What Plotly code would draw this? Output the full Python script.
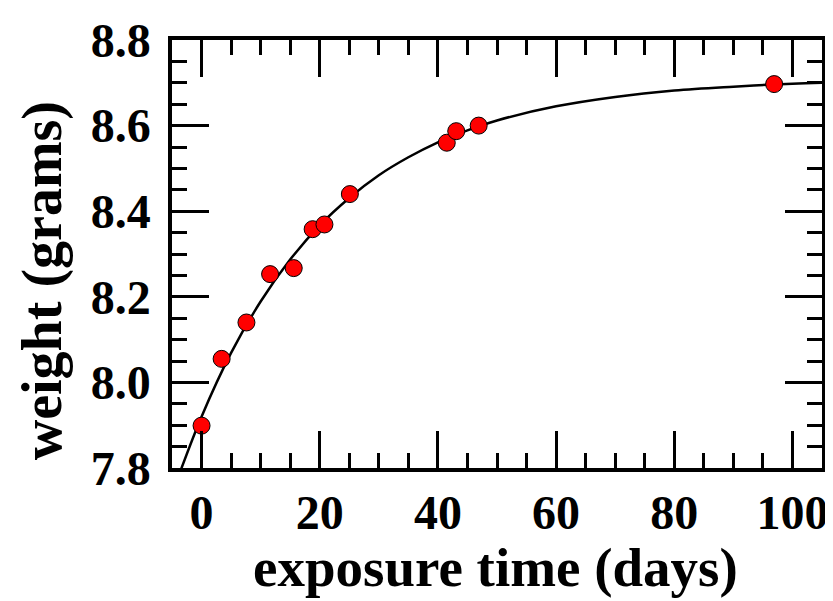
import plotly.graph_objects as go

# measured points
days = [0, 3.4, 7.6, 11.6, 15.6, 18.8, 20.8, 25.1, 41.5, 43.1, 46.9, 96.9]
weight = [7.899, 8.055, 8.140, 8.253, 8.267, 8.358, 8.369, 8.440, 8.560, 8.587, 8.600, 8.697]

# fitted curve
fit_days = [-4, 0, 5, 10, 15, 20, 25, 30, 35, 40, 45, 50, 60, 70, 80, 90, 100, 105]
fit_weight = [7.777, 7.920, 8.069, 8.189, 8.287, 8.367, 8.431, 8.484, 8.526, 8.561,
              8.589, 8.612, 8.645, 8.667, 8.682, 8.691, 8.698, 8.700]

FONT = "Liberation Serif"

fig = go.Figure()
fig.add_trace(go.Scatter(
    x=fit_days, y=fit_weight, mode="lines", line_shape="spline",
    line=dict(color="black", width=2.5), hoverinfo="skip",
))
fig.add_trace(go.Scatter(
    x=days, y=weight, mode="markers",
    marker=dict(color="#ff0000", size=17, line=dict(color="black", width=1)),
))

axis_style = dict(
    showline=True, linecolor="black", linewidth=3.5, mirror="ticks",
    ticks="inside", ticklen=37, tickwidth=3, tickcolor="black",
    showgrid=False, zeroline=False, automargin=False,
    tickfont=dict(family=FONT, size=48, color="black", weight="bold"),
)

fig.update_xaxes(
    **axis_style, range=[-5, 105], dtick=20, tick0=0,
    minor=dict(ticks="inside", ticklen=15, tickwidth=3, tickcolor="black", dtick=5),
    ticklabelstandoff=0,
)
fig.update_yaxes(
    **axis_style, range=[7.8, 8.8], dtick=0.2, tick0=7.8, tickformat=".1f",
    minor=dict(ticks="inside", ticklen=15, tickwidth=3, tickcolor="black", dtick=0.05),
    ticklabelstandoff=8,
)

# axis titles
fig.add_annotation(
    text="<b>exposure time (days)</b>", xref="paper", yref="paper",
    x=0.497, y=-0.233, xanchor="center", yanchor="middle", showarrow=False,
    font=dict(family=FONT, size=55, color="black"),
)
fig.add_annotation(
    text="<b>weight (grams)</b>", xref="paper", yref="paper", textangle=-90,
    x=-0.198, y=0.437, xanchor="center", yanchor="middle", showarrow=False,
    font=dict(family=FONT, size=56, color="black"),
)

# the page body has an 8px margin, so the figure is 8px smaller and shifted
fig.update_layout(
    width=825, height=593,
    margin=dict(l=164, r=11, t=32, b=133),
    plot_bgcolor="white", paper_bgcolor="white",
    showlegend=False,
)

fig.write_html("out.html")
